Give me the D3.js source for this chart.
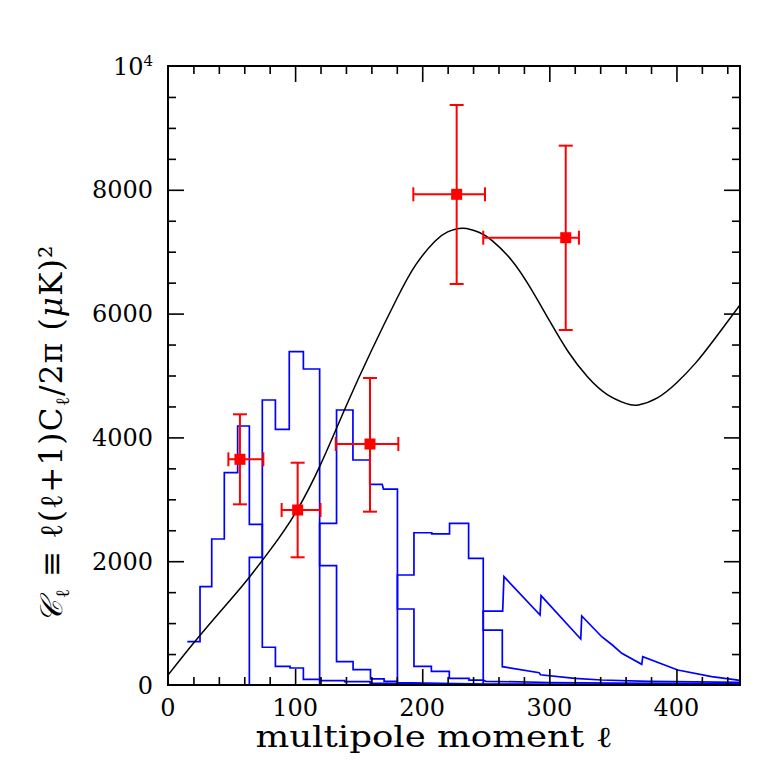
<!DOCTYPE html>
<html><head><meta charset="utf-8">
<script src="https://cdn.jsdelivr.net/npm/d3@7"></script>
<style>body{margin:0;background:#fff}svg{display:block}</style>
</head><body>
<svg id="c" width="781" height="781"></svg>
<script>
// ---- data ----
const xTicksMajor = [0, 100, 200, 300, 400];
const yTickValues = [0, 2000, 4000, 6000, 8000, 10000];
const yTickLabels = ["0", "2000", "4000", "6000", "8000", "10^4"];

// theory curve [ell, value]
const theory = [[0,160],[20,674],[40,1160],[60,1640],[80,2170],[100,2770],[120,3560],[140,4500],[160,5400],[180,6240],[195,6790],[210,7170],[220,7320],[232,7380],[245,7310],[255,7180],[270,6870],[285,6420],[300,5890],[315,5380],[330,4980],[345,4700],[360,4550],[370,4525],[385,4640],[400,4880],[415,5200],[430,5590],[450,6139]];

// band-power points
const dataEll   = [56.6, 102, 158.9, 227.1, 312.9];
const dataVal   = [3646, 2827, 3893, 7927, 7226];
const dataEllLo = [47.5, 89.4, 132, 193, 248];
const dataEllHi = [75, 120, 181.2, 249.4, 323.3];
const dataValLo = [2919, 2063, 2800, 6478, 5735];
const dataValHi = [4373, 3591, 4960, 9370, 8713];

// window functions [ell, value]
const winA = [[15.2,700],[25.2,700],[25.2,1588],[34.4,1588],[34.4,2359],[44.3,2359],[44.3,3430],[54.8,3430],[54.8,4184],[64,4184],[64,2596],[74.2,2596],[74.2,610],[84.5,610],[84.5,300],[96,300],[96,275],[106.5,275],[106.5,92],[119.3,92],[119.3,70],[139,70],[139,53],[159,53],[159,30],[200,20],[250,8],[450,3]];
const winB = [[15.2,0],[64,0],[64,2063],[74.2,2063],[74.2,4604],[84.5,4604],[84.5,4130],[95.4,4130],[95.4,5385],[106.5,5385],[106.5,5105],[119.3,5105],[119.3,1928],[132.6,1928],[132.6,377],[145.6,377],[145.6,250],[159.3,250],[159.3,100],[170,100],[170,60],[180,60],[180,40],[250,15],[450,5]];
const winC = [[15.2,0],[119.3,0],[119.3,2612],[132.6,2612],[132.6,4443],[145.5,4443],[145.5,3635],[158.7,3635],[158.7,3242],[168.5,3242],[169.5,3166],[180.5,3166],[180.5,1228],[193.5,1228],[193.5,300],[207.2,300],[207.2,220],[221.3,220],[221.3,108],[236.8,108],[236.8,80],[248,80],[250,60],[300,40],[350,30],[450,18]];
const winD = [[15.2,0],[180.5,0],[180.5,1777],[193.5,1777],[193.5,2460],[207.5,2460],[207.5,2440],[221.5,2440],[221.5,2612],[236.5,2612],[236.5,2047],[248,2047],[248,888],[263,888],[263,296],[292,199],[293,165],[320,108],[341,81],[378,59],[450,43]];
const winE = [[15.2,0],[248,0],[248,1195],[263.3,1195],[264.3,1750],[292.7,1131],[293.5,1443],[324.7,743],[325.5,1115],[341.2,780],[349.6,646],[357,512],[372.7,334],[373.5,457],[401,242],[427.7,134],[450,75]];
const windows = [winA, winB, winC, winD, winE];

// ---- drawing ----
const svg = d3.select("#c");
const L = 168, R = 740, T = 66, B = 685;
const x = d3.scaleLinear().domain([0, 450]).range([L, R]);
const y = d3.scaleLinear().domain([0, 10000]).range([B, T]);
const font = "'DejaVu Serif', serif";

svg.append("clipPath").attr("id","pc").append("rect")
  .attr("x", L).attr("y", T).attr("width", R-L).attr("height", B-T);

const g = svg.append("g").attr("clip-path","url(#pc)");
const lineLin = d3.line().x(d => x(d[0])).y(d => y(d[1]));

g.selectAll("path.win").data(windows).join("path").attr("class","win")
  .attr("d", lineLin).attr("fill","none").attr("stroke","#0000ff")
  .attr("stroke-width",1.7).attr("stroke-linejoin","miter");

const lineSmooth = d3.line().x(d => x(d[0])).y(d => y(d[1])).curve(d3.curveNatural);
g.append("path").datum(theory).attr("d", lineSmooth).attr("fill","none")
  .attr("stroke","#000").attr("stroke-width",1.5);

// error bars
const red = "#ff0000";
const eb = svg.append("g").attr("stroke", red).attr("stroke-width", 2).attr("fill","none");
const idx = d3.range(dataEll.length);
const cap = 7;
eb.selectAll("line.v").data(idx).join("line").attr("class","v")
  .attr("x1", i => x(dataEll[i])).attr("x2", i => x(dataEll[i]))
  .attr("y1", i => y(dataValLo[i])).attr("y2", i => y(dataValHi[i]));
eb.selectAll("line.h").data(idx).join("line").attr("class","h")
  .attr("x1", i => x(dataEllLo[i])).attr("x2", i => x(dataEllHi[i]))
  .attr("y1", i => y(dataVal[i])).attr("y2", i => y(dataVal[i]));
eb.selectAll("line.c1").data(idx).join("line").attr("class","c1")
  .attr("x1", i => x(dataEll[i])-cap).attr("x2", i => x(dataEll[i])+cap)
  .attr("y1", i => y(dataValLo[i])).attr("y2", i => y(dataValLo[i]));
eb.selectAll("line.c2").data(idx).join("line").attr("class","c2")
  .attr("x1", i => x(dataEll[i])-cap).attr("x2", i => x(dataEll[i])+cap)
  .attr("y1", i => y(dataValHi[i])).attr("y2", i => y(dataValHi[i]));
eb.selectAll("line.c3").data(idx).join("line").attr("class","c3")
  .attr("x1", i => x(dataEllLo[i])).attr("x2", i => x(dataEllLo[i]))
  .attr("y1", i => y(dataVal[i])-cap).attr("y2", i => y(dataVal[i])+cap);
eb.selectAll("line.c4").data(idx).join("line").attr("class","c4")
  .attr("x1", i => x(dataEllHi[i])).attr("x2", i => x(dataEllHi[i]))
  .attr("y1", i => y(dataVal[i])-cap).attr("y2", i => y(dataVal[i])+cap);
svg.selectAll("rect.pt").data(idx).join("rect").attr("class","pt")
  .attr("x", i => x(dataEll[i])-5.5).attr("y", i => y(dataVal[i])-5.5)
  .attr("width", 11).attr("height", 11).attr("fill", red);

// axes ticks (inward)
const xMinor = d3.range(20, 450, 20).filter(v => v % 100 !== 0);
const xMajor = xTicksMajor.filter(v => v > 0);
const yMinor = d3.range(500, 10000, 500).filter(v => v % 2000 !== 0);
const yMajor = yTickValues.filter(v => v > 0 && v < 10000);
function ax(gen, vals, size, tr) {
  const a = svg.append("g").attr("transform", tr)
    .call(gen.tickValues(vals).tickSize(-size).tickFormat(""));
  a.select(".domain").remove();
  a.selectAll("line").attr("stroke","#000").attr("stroke-width",1.6);
}
ax(d3.axisBottom(x), xMinor, 8, `translate(0,${B})`);
ax(d3.axisBottom(x), xMajor, 16, `translate(0,${B})`);
ax(d3.axisTop(x), xMinor, 8, `translate(0,${T})`);
ax(d3.axisTop(x), xMajor, 16, `translate(0,${T})`);
ax(d3.axisLeft(y), yMinor, 8, `translate(${L},0)`);
ax(d3.axisLeft(y), yMajor, 16, `translate(${L},0)`);
ax(d3.axisRight(y), yMinor, 8, `translate(${R},0)`);
ax(d3.axisRight(y), yMajor, 16, `translate(${R},0)`);

svg.append("rect").attr("x", L).attr("y", T).attr("width", R-L).attr("height", B-T)
  .attr("fill","none").attr("stroke","#000").attr("stroke-width",2);

// tick labels
svg.selectAll("text.xt").data(xTicksMajor).join("text").attr("class","xt")
  .attr("x", d => x(d)).attr("y", B + 31).attr("text-anchor","middle")
  .attr("font-family", font).attr("font-size", 24).text(d => d);
yTickValues.forEach((v, i) => {
  const t = svg.append("text").attr("x", 153).attr("y", y(v) + 8.5)
    .attr("text-anchor","end").attr("font-family", font).attr("font-size", 24);
  const lab = yTickLabels[i];
  if (lab.includes("^")) {
    const [b, e] = lab.split("^");
    t.append("tspan").text(b);
    t.append("tspan").attr("font-size", 15).attr("dy", -9).text(e);
  } else t.text(lab);
});

// axis titles
svg.append("text").attr("x", 434).attr("y", 747).attr("text-anchor","middle")
  .attr("font-family", font).attr("font-size", 29)
  .attr("textLength", 357).attr("lengthAdjust","spacingAndGlyphs")
  .text("multipole moment ℓ");

const yl = svg.append("text").attr("transform","translate(62,434) rotate(-90)")
  .attr("text-anchor","middle").attr("font-family", font).attr("font-size", 31)
  .attr("textLength", 377).attr("lengthAdjust","spacing");
yl.append("tspan").attr("font-style","italic").text("𝒞");
yl.append("tspan").attr("font-size", 19).attr("dy", 7).text("ℓ");
yl.append("tspan").attr("dy", -7).text(" ≡ ℓ(ℓ+1)C");
yl.append("tspan").attr("font-size", 19).attr("dy", 7).text("ℓ");
yl.append("tspan").attr("dy", -7).text("/2π  (");
yl.append("tspan").attr("font-style","italic").text("μ");
yl.append("tspan").text("K)²");
</script>
</body></html>
